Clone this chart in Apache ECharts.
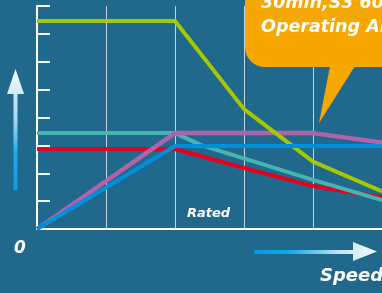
<!DOCTYPE html>
<html lang="en">
<head>
    <meta charset="UTF-8">
    <title>Speed chart</title>
    <style>
        html, body { margin: 0; padding: 0; background: #21688d; }
    </style>
</head>
<body>
<div id="main" style="width: 382px; height: 293px;"></div>
<script src="https://cdn.jsdelivr.net/npm/echarts@6/dist/echarts.min.js"></script>
<script type="text/javascript">
// points are [speed step, level]
var greenPts  = [[0, 7.46], [2, 7.46], [3, 4.3], [4, 2.42], [5, 1.35]];
var tealPts   = [[0, 3.44], [2, 3.44], [2.38, 3.01], [4, 1.76], [5, 1.04]];
var purplePts = [[0, 0], [2, 3.44], [4, 3.44], [5, 3.1]];
var redPts    = [[0, 2.87], [2, 2.87], [3, 2.19], [4, 1.54], [5, 1.13]];
var bluePts   = [[0, 0], [2, 2.98], [5, 2.98]];

var bubbleLines = ['30min,S3 60%', 'Operating Area'];
var font = 'bold italic {s}px "DejaVu Sans"';

var chart = echarts.init(document.getElementById('main'));

function mkLine(pts, color, w) {
    return {
        type: 'line',
        data: pts,
        symbol: 'none',
        animation: false,
        lineStyle: { color: color, width: w }
    };
}

function f(size) {
    return font.replace('{s}', size);
}

var option = {
    backgroundColor: '#21688d',
    animation: false,
    grid: { left: 37, top: 6, bottom: 64, right: -3 },
    xAxis: {
        type: 'value',
        min: 0, max: 5, interval: 1,
        axisLine: { show: true, lineStyle: { color: '#ffffff', width: 2 } },
        axisTick: { show: false },
        axisLabel: { show: false },
        splitLine: { show: true, lineStyle: { color: 'rgba(220,232,240,0.85)', width: 1 } }
    },
    yAxis: {
        type: 'value',
        min: 0, max: 8, interval: 1,
        axisLine: { show: true, lineStyle: { color: '#ffffff', width: 2 } },
        axisTick: { show: true, inside: true, length: 13, lineStyle: { color: '#ffffff', width: 2 } },
        axisLabel: { show: false },
        splitLine: { show: false }
    },
    series: [
        mkLine(redPts, '#e6001e', 4),
        mkLine(tealPts, '#46b5b0', 4),
        mkLine(purplePts, '#b063a8', 4.5),
        mkLine(greenPts, '#a6c800', 4),
        mkLine(bluePts, '#0090da', 4)
    ],
    graphic: [
        // speech bubble
        { type: 'rect', z: 100, shape: { x: 245, y: -40, width: 170, height: 107, r: 20 },
          style: { fill: '#f6a800' } },
        { type: 'polygon', z: 100, shape: { points: [[330, 66], [355, 66], [319, 123]] },
          style: { fill: '#f6a800' } },
        { type: 'text', z: 101, style: { text: bubbleLines[0], x: 261, y: 3, font: f(17.5),
          fill: '#ffffff', verticalAlign: 'middle' } },
        { type: 'text', z: 101, style: { text: bubbleLines[1], x: 261, y: 27.5, font: f(17.5),
          fill: '#ffffff', verticalAlign: 'middle' } },
        // labels
        { type: 'text', z: 101, style: { text: 'Rated', x: 187, y: 214, font: f(13),
          fill: '#ffffff', verticalAlign: 'middle' } },
        { type: 'text', z: 101, style: { text: '0', x: 14, y: 249, font: f(17),
          fill: '#ffffff', verticalAlign: 'middle' } },
        { type: 'text', z: 101, style: { text: 'Speed', x: 320, y: 276, font: f(18),
          fill: '#ffffff', verticalAlign: 'middle' } },
        // up arrow
        { type: 'rect', z: 100, shape: { x: 13.5, y: 92, width: 4, height: 98 },
          style: { fill: new echarts.graphic.LinearGradient(0, 69, 0, 190, [
              { offset: 0, color: '#f2f8fc' }, { offset: 0.45, color: '#9cd4f2' },
              { offset: 0.7, color: '#18aaea' }, { offset: 1, color: '#0a9ee2' }], true) } },
        { type: 'polygon', z: 100, shape: { points: [[15.5, 69], [7, 94], [24, 94]] },
          style: { fill: new echarts.graphic.LinearGradient(0, 69, 0, 94, [
              { offset: 0, color: '#f4f9fd' }, { offset: 1, color: '#d2eaf8' }], true) } },
        // right arrow
        { type: 'rect', z: 100, shape: { x: 254, y: 250, width: 100, height: 4 },
          style: { fill: new echarts.graphic.LinearGradient(254, 0, 377, 0, [
              { offset: 0, color: '#0a98de' }, { offset: 0.3, color: '#14aae8' },
              { offset: 0.7, color: '#c4e4f6' }, { offset: 1, color: '#f2f8fc' }], true) } },
        { type: 'polygon', z: 100, shape: { points: [[353, 242], [353, 261], [377, 251.5]] },
          style: { fill: new echarts.graphic.LinearGradient(353, 0, 377, 0, [
              { offset: 0, color: '#d6ecf8' }, { offset: 1, color: '#f4f9fd' }], true) } }
    ]
};
chart.setOption(option);
</script>
</body>
</html>
